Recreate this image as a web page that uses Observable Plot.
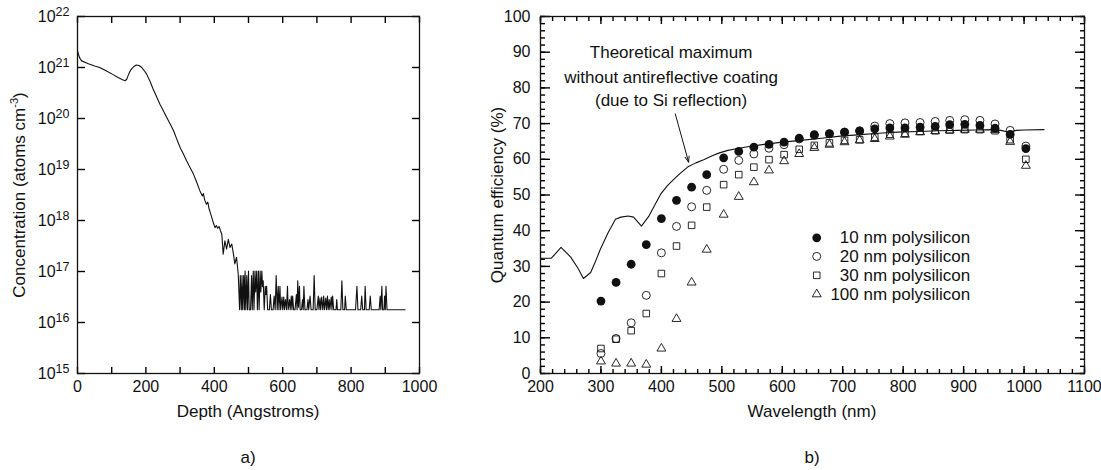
<!DOCTYPE html>
<html><head><meta charset="utf-8">
<script src="https://cdn.jsdelivr.net/npm/d3@7"></script>
<script src="https://cdn.jsdelivr.net/npm/@observablehq/plot@0.6"></script>
<style>
body{margin:0;background:#fff;}
#wrap{position:relative;width:1101px;height:470px;font-family:"Liberation Sans",Arial,Helvetica,sans-serif;color:#111;overflow:hidden;}
#wrap svg{position:absolute;top:0;}
.t{position:absolute;font-size:17px;white-space:nowrap;line-height:1;}
.t sup{font-size:11px;vertical-align:0;position:relative;top:-7px;}
</style></head><body><div id="wrap"></div>
<script>
// ---------- Panel a) : concentration profile ----------
const depthDescent = [0,3,7,12,30,50,65,85,104,120,
  132,139,144,148,153,158,165,172,180,188,
  195,202,212,221,231,241,251,261,271,281,
  290,300,310,319,329,339,348,358,365,368,
  372,377,381,385,390,397,402,406,410,414,
  418,422,426,431,436,441,446,451,456,460,
  465,470];
const logConcDescent = [21.33,21.25,21.18,21.13,21.08,21.03,21.0,20.93,20.86,20.8,
  20.76,20.74,20.77,20.84,20.92,20.97,21.02,21.05,21.04,21.0,
  20.94,20.87,20.73,20.58,20.43,20.28,20.15,20.02,19.89,19.76,
  19.6,19.43,19.3,19.17,19.04,18.91,18.76,18.58,18.48,18.53,
  18.4,18.32,18.36,18.22,18.12,17.96,17.86,17.9,17.85,17.88,
  17.8,17.73,17.34,17.6,17.44,17.63,17.47,17.54,17.34,17.15,
  17.28,16.95];
const depthNoise = [474,476,479,481,483,486,488,490,492,495,
  497,500,502,506,509,511,514,516,519,521,
  524,526,529,531,534,536,539,541,543,546,
  549,551,553,556,561,564,567,572,575,578,
  581,584,587,589,592,594,598,600,603,605,
  608,611,614,616,620,622,625,627,629,632,
  636,640,642,644,646,649,651,655,658,660,
  662,665,671,674,676,680,683,689,692,695,
  700,704,706,709,711,714,717,720,722,726,
  728,731,733,736,738,742,744,746,749,756,
  758,760,770,773,776,781,783,786,813,817,
  820,828,831,834,839,841,844,853,856,859,
  882,885,887,890,892,896,898,900,902,905,
  958];
const logConcNoise = [16.25,16.92,16.25,16.92,16.25,16.92,16.25,17.01,16.25,16.92,
  16.25,17.01,16.25,16.25,16.92,16.25,17.01,16.25,17.01,16.6,
  17.01,16.25,17.01,16.25,17.01,16.6,17.01,16.7,16.82,16.25,
  16.71,16.55,16.71,16.25,16.25,16.55,16.25,16.25,16.52,16.25,
  16.92,16.25,16.71,16.25,16.71,16.25,16.5,16.25,16.5,16.25,
  16.45,16.25,16.71,16.25,16.45,16.25,16.52,16.25,16.52,16.25,
  16.25,16.55,16.25,16.82,16.3,16.71,16.25,16.25,16.45,16.25,
  16.71,16.25,16.25,16.45,16.25,16.52,16.25,16.25,16.92,16.25,
  16.25,16.52,16.25,16.48,16.25,16.5,16.25,16.52,16.25,16.48,
  16.25,16.52,16.25,16.45,16.25,16.5,16.25,16.52,16.25,16.25,
  16.45,16.25,16.25,16.82,16.25,16.25,16.52,16.25,16.25,16.71,
  16.25,16.25,16.52,16.25,16.25,16.71,16.25,16.25,16.52,16.25,
  16.25,16.52,16.25,16.71,16.25,16.25,16.52,16.25,16.71,16.25,
  16.25];
const depthTickLabels = [0,200,400,600,800,1000];
const depthTicks = [0,100,200,300,400,500,600,700,800,900,1000];
const concTicks = [1e15,1e16,1e17,1e18,1e19,1e20,1e21,1e22];

// ---------- Panel b) : quantum efficiency ----------
const wavelength = [300,325,350,375,400,425,450,475,503,528,553,578,603,628,653,678,703,728,753,778,803,828,853,877,902,927,952,977,1003];
const qe10nm  = [20.3,25.5,30.6,36.1,43.4,48.5,52.2,55.7,60.4,62.2,63.4,64.2,64.8,65.9,66.9,67.2,67.6,67.9,68.5,68.8,68.8,69.0,69.2,69.7,69.8,69.5,68.7,67.0,63.0];
const qe20nm  = [5.6,9.8,14.2,21.9,33.8,41.2,46.7,51.3,57.2,59.7,61.5,63.1,64.1,65.7,66.7,67.1,67.6,68.0,69.3,70.0,70.2,70.3,70.6,70.9,71.1,70.9,69.9,68.1,63.7];
const qe30nm  = [7.0,9.6,12.0,16.8,28.0,35.7,41.5,46.6,52.9,55.7,57.8,59.9,61.3,62.8,63.9,64.6,65.3,65.5,66.2,67.0,67.3,67.8,68.0,68.2,68.3,68.3,68.0,65.5,60.0];
const qe100nm = [3.4,2.8,2.8,2.5,7.0,15.3,25.5,34.7,44.5,49.5,53.6,56.9,59.5,61.5,63.2,64.1,64.8,65.3,65.7,66.4,66.9,67.6,67.9,68.1,68.3,68.3,68.2,64.9,58.2];
const theoryWl = [200,218,234,250,262,271,283,290,299,312,324,333,345,354,367,379,390,399,410,420,432,444,457,470,484,496,510,522,545,567,600,631,665,696,730,760,790,825,860,890,920,948,962,974,987,1000,1033];
const theoryQe = [32.3,32.3,35.3,32.6,29.5,26.6,28.3,31.0,34.8,39.5,43.2,43.8,44.1,43.8,41.3,44.0,47.5,50.3,52.6,54.3,56.2,57.9,59.0,59.9,61.0,61.8,62.5,62.9,63.6,64.1,64.8,65.3,65.9,66.5,66.9,67.3,67.6,67.8,68.0,68.1,68.2,68.3,68.1,67.6,68.1,68.2,68.3];
const legendLabels = ["10 nm polysilicon","20 nm polysilicon","30 nm polysilicon","100 nm polysilicon"];
const legendQe = [38.0,32.8,27.5,22.2];
const legendMarkerWl = 657;
const legendTextEndWl = 911;
const annotationLines = ["Theoretical maximum","without antireflective coating","(due to Si reflection)"];
const annotationQe = [90,83,76.5];
const annotationWl = 416;
const arrowWl = [423,445];
const arrowQe = [72.7,59.2];
const wlTickLabels = [200,300,400,500,600,700,800,900,1000,1100];
const wlTicksMajor = [200,300,400,500,600,700,800,900,1000,1100];
const wlTicksMinor = d3.range(200, 1101, 20);
const qeTickLabels = [0,10,20,30,40,50,60,70,80,90,100];
const qeTicksMinor = d3.range(0, 101, 2);

// ---------- drawing ----------
const INK = "#111";
const FONT = '"Liberation Sans", Arial, Helvetica, sans-serif';
const style = {fontFamily: FONT, fontSize: "16px", color: INK, background: "none", overflow: "visible"};
const TK = {stroke: "#000", strokeWidth: 1.4, tickFormat: () => "", label: null};

// inward ticks on all four sides, drawn by Plot axis marks (negative tick size = inward)
function inwardTicks(xTicks, xLen, yTicks, yLen) {
  return [
    Plot.axisX(xTicks, {anchor: "bottom", tickSize: -xLen, ...TK}),
    Plot.axisX(xTicks, {anchor: "top", tickSize: -xLen, ...TK}),
    Plot.axisY(yTicks, {anchor: "left", tickSize: -yLen, ...TK}),
    Plot.axisY(yTicks, {anchor: "right", tickSize: -yLen, ...TK})
  ];
}

const profile = depthDescent.concat(depthNoise).map((d, i) => ({
  depth: d, conc: 10 ** logConcDescent.concat(logConcNoise)[i]
}));

const left = Plot.plot({
  width: 440, height: 430, marginLeft: 77, marginRight: 21, marginTop: 16, marginBottom: 57,
  style,
  x: {domain: [0, 1000]},
  y: {type: "log", domain: [1e15, 1e22]},
  marks: [
    ...inwardTicks(depthTicks, 6, concTicks, 8),
    Plot.axisX(depthTickLabels, {tickSize: 0, tickPadding: 7, tickFormat: d => String(d), label: null}),
    Plot.axisY(concTicks, {tickSize: 0, tickPadding: 8, tickFormat: d => "10|" + Math.round(Math.log10(d)), label: null}),
    Plot.line(profile, {x: "depth", y: "conc", stroke: INK, strokeWidth: 1.1}),
    Plot.frame({stroke: INK, strokeWidth: 1.3})
  ]
});
left.style.left = "0px";
left.querySelectorAll("text").forEach(t => {
  const s = t.textContent;
  if (s.includes("|")) {
    const [b, e] = s.split("|");
    t.textContent = b;
    const ts = document.createElementNS("http://www.w3.org/2000/svg", "tspan");
    ts.setAttribute("dy", "-0.42em");
    ts.setAttribute("font-size", "12.5px");
    ts.textContent = e;
    t.appendChild(ts);
  }
});

const series = [
  {qe: qe100nm, opts: {symbol: "triangle", r: 3.3, fill: "none", stroke: INK, strokeWidth: 0.9}},
  {qe: qe30nm,  opts: {symbol: "square",   r: 3.7, fill: "none", stroke: INK, strokeWidth: 0.9}},
  {qe: qe20nm,  opts: {symbol: "circle",   r: 4.0, fill: "none", stroke: INK, strokeWidth: 0.9}},
  {qe: qe10nm,  opts: {symbol: "circle",   r: 4.4, fill: INK, stroke: "none"}}
];
const legendOrder = [3, 2, 1, 0]; // legend rows: 10, 20, 30, 100 nm
const theory = theoryWl.map((w, i) => ({wl: w, qe: theoryQe[i]}));
const legendRows = legendLabels.map((l, i) => ({label: l, qe: legendQe[i], s: series[legendOrder[i]]}));

const right = Plot.plot({
  width: 641, height: 430, marginLeft: 80, marginRight: 17, marginTop: 16, marginBottom: 57,
  style,
  x: {domain: [200, 1100]},
  y: {domain: [0, 100]},
  marks: [
    ...inwardTicks(wlTicksMinor, 4, qeTicksMinor, 5),
    ...inwardTicks(wlTicksMajor, 7, qeTickLabels, 10),
    Plot.axisX(wlTickLabels, {tickSize: 0, tickPadding: 7, tickFormat: d => String(d), label: null}),
    Plot.axisY(qeTickLabels, {tickSize: 0, tickPadding: 10, tickFormat: d => String(d), label: null}),
    Plot.line(theory, {x: "wl", y: "qe", stroke: INK, strokeWidth: 1.1}),
    ...series.map(s => Plot.dot(wavelength, {x: d => d, y: (d, i) => s.qe[i], ...s.opts})),
    ...legendRows.map(r => Plot.dot([r], {x: () => legendMarkerWl, y: "qe", ...r.s.opts})),
    Plot.text(legendRows, {x: () => legendTextEndWl, y: "qe", text: "label", textAnchor: "end", fontSize: 17, fill: INK}),
    Plot.text(annotationLines, {x: () => annotationWl, y: (d, i) => annotationQe[i], text: d => d, fontSize: 17, fill: INK}),
    Plot.arrow([0], {x1: () => arrowWl[0], y1: () => arrowQe[0], x2: () => arrowWl[1], y2: () => arrowQe[1], stroke: INK, strokeWidth: 1, headLength: 9, headAngle: 40}),
    Plot.frame({stroke: INK, strokeWidth: 1.3})
  ]
});
right.style.left = "460px";

const wrap = document.getElementById("wrap");
wrap.appendChild(left);
wrap.appendChild(right);

const titles = [
  {html: "Depth (Angstroms)", x: 248, y: 411, rot: false},
  {html: "Concentration (atoms cm<sup>-3</sup>)", x: 19, y: 195, rot: true},
  {html: "Wavelength (nm)", x: 812, y: 411, rot: false},
  {html: "Quantum efficiency (%)", x: 497, y: 195, rot: true},
  {html: "a)", x: 248, y: 457, rot: false},
  {html: "b)", x: 812, y: 457, rot: false}
];
titles.forEach(t => {
  const d = document.createElement("div");
  d.className = "t";
  d.innerHTML = t.html;
  d.style.left = t.x + "px";
  d.style.top = t.y + "px";
  d.style.transform = "translate(-50%,-50%)" + (t.rot ? " rotate(-90deg)" : "");
  wrap.appendChild(d);
});
</script></body></html>
